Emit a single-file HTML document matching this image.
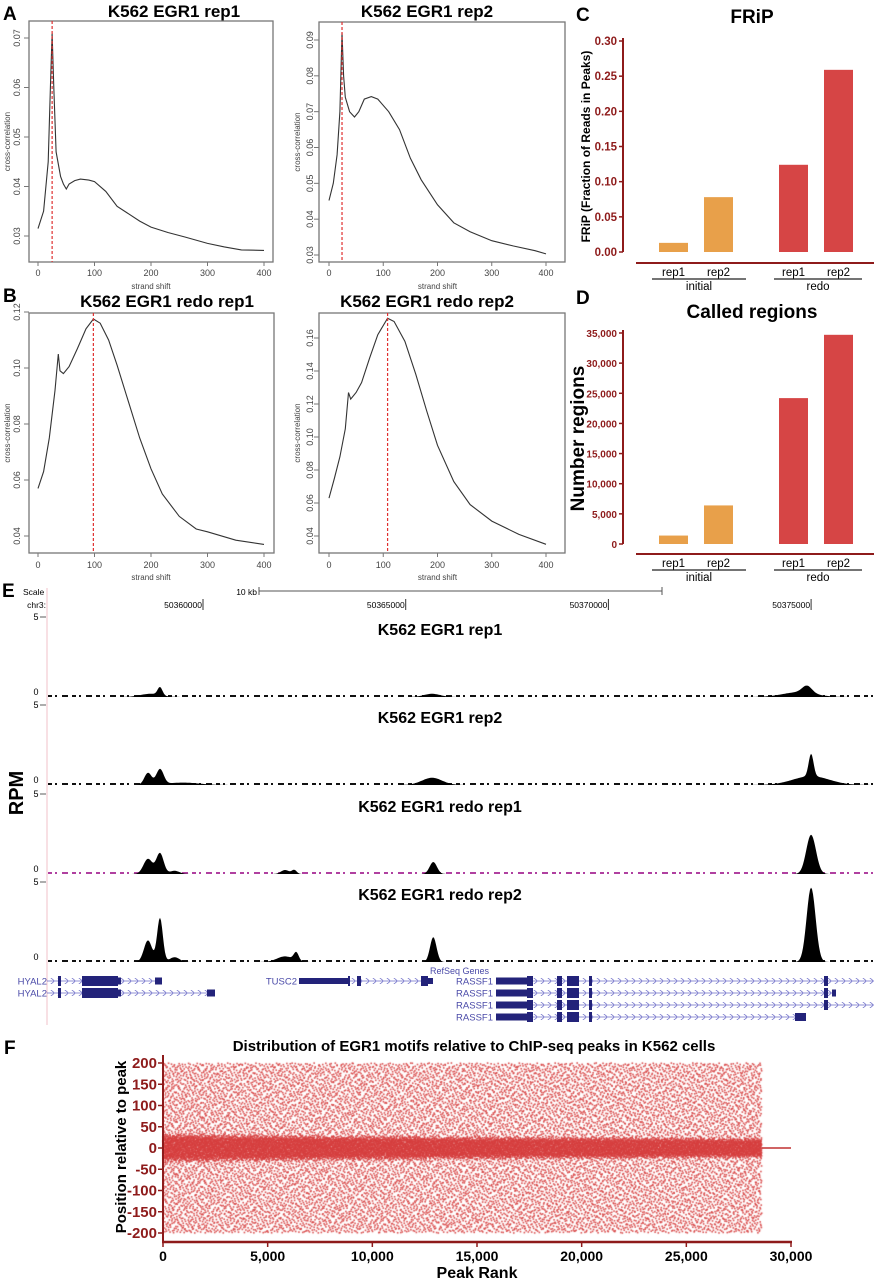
<!DOCTYPE html>
<html><head><meta charset="utf-8"><style>
html,body{margin:0;padding:0;background:#fff;}
#wrap{position:relative;width:874px;height:1280px;overflow:hidden;}
svg{position:absolute;left:0;top:0;}
#scatter{position:absolute;left:0;top:0;}
text{font-family:"Liberation Sans",sans-serif;}
</style></head><body>
<div id="wrap">
<canvas id="scatter" width="874" height="1280"></canvas>
<svg id="fig" width="874" height="1280" xmlns="http://www.w3.org/2000/svg">
<defs>
<pattern id="chev" width="7" height="6" patternUnits="userSpaceOnUse" y="-3">
<path d="M5,0.5 L2,3 L5,5.5" fill="none" stroke="#6e6ec8" stroke-width="0.8"/>
</pattern>
</defs>
<g font-weight="bold" font-size="19">
<text x="3" y="20">A</text>
<text x="3" y="302">B</text>
<text x="576" y="21">C</text>
<text x="576" y="304">D</text>
<text x="2" y="597">E</text>
<text x="4" y="1054">F</text>
</g>
<g id="ccplots"></g>
<g id="bars"></g>
<g id="browser"></g>
<g id="fplot"></g>
</svg>
</div>
<script>
// ---------- Panel A/B data ----------
const ccA1Shift = [0,10,18,22,25,28,32,40,45,50,55,65,75,90,100,120,140,160,180,200,230,260,300,330,360,400];
const ccA1Value = [0.0315,0.035,0.045,0.060,0.071,0.060,0.047,0.042,0.0405,0.0395,0.0405,0.0412,0.0415,0.0413,0.041,0.039,0.036,0.0345,0.033,0.0318,0.0307,0.0298,0.0285,0.0278,0.0272,0.0271];
const ccA2Shift = [0,8,15,20,24,27,30,38,47,55,65,78,90,110,130,150,170,200,230,260,300,340,380,400];
const ccA2Value = [0.0452,0.050,0.058,0.070,0.092,0.080,0.074,0.070,0.0685,0.070,0.0735,0.0742,0.0735,0.070,0.065,0.057,0.051,0.044,0.039,0.0365,0.034,0.0325,0.0312,0.0303];
const ccB1Shift = [0,10,20,30,36,39,45,55,70,85,98,110,125,140,160,180,200,220,250,280,300,350,400];
const ccB1Value = [0.057,0.063,0.075,0.092,0.105,0.099,0.098,0.1005,0.107,0.114,0.1175,0.116,0.110,0.101,0.088,0.075,0.064,0.055,0.047,0.0425,0.0415,0.0385,0.037];
const ccB2Shift = [0,10,20,30,36,40,50,60,75,90,108,120,140,160,180,200,230,260,300,350,400];
const ccB2Value = [0.063,0.075,0.088,0.105,0.127,0.123,0.127,0.133,0.148,0.162,0.172,0.170,0.158,0.138,0.116,0.095,0.073,0.059,0.049,0.041,0.035];
const ccPeakShift = [25,24,98,108];
const ccTitles = ["K562 EGR1 rep1","K562 EGR1 rep2","K562 EGR1 redo rep1","K562 EGR1 redo rep2"];
const ccXTicks = [0,100,200,300,400];
const ccA1YTicks = [0.03,0.04,0.05,0.06,0.07];
const ccA2YTicks = [0.03,0.04,0.05,0.06,0.07,0.08,0.09];
const ccB1YTicks = [0.04,0.06,0.08,0.10,0.12];
const ccB2YTicks = [0.04,0.06,0.08,0.10,0.12,0.14,0.16];

// ---------- Panel C/D data ----------
const barGroups = ["initial","initial","redo","redo"];
const barReps = ["rep1","rep2","rep1","rep2"];
const fripValues = [0.013,0.078,0.124,0.259];
const fripTicks = [0,0.05,0.10,0.15,0.20,0.25,0.30];
const regionValues = [1400,6400,24200,34700];
const regionTicks = [0,5000,10000,15000,20000,25000,30000,35000];

// ---------- Panel E data (genomic bp, RPM, width bp) ----------
const trackNames = ["K562 EGR1 rep1","K562 EGR1 rep2","K562 EGR1 redo rep1","K562 EGR1 redo rep2"];
const coordTicks = [50360000,50365000,50370000,50375000];
const rep1PeakPos = [50358939,50358700,50365650,50374900,50374700];
const rep1PeakRPM = [0.5,0.2,0.2,0.45,0.3];
const rep1PeakWidth = [60,250,200,120,400];
const rep2PeakPos = [50358643,50358939,50365650,50375000,50375000,50359500];
const rep2PeakRPM = [0.75,0.95,0.45,1.4,0.55,0.15];
const rep2PeakWidth = [90,90,250,60,450,400];
const redo1PeakPos = [50358643,50358939,50359300,50362023,50362250,50365680,50375000];
const redo1PeakRPM = [0.95,1.3,0.2,0.25,0.25,0.75,2.45];
const redo1PeakWidth = [110,90,120,100,60,90,120];
const redo2PeakPos = [50358643,50358939,50359300,50362023,50362300,50365680,50375000];
const redo2PeakRPM = [1.35,2.75,0.3,0.35,0.5,1.55,4.65];
const redo2PeakWidth = [100,70,120,200,60,80,110];

// ---------- Panel F data ----------
const fXTicks = [0,5000,10000,15000,20000,25000,30000];
const fYTicks = [200,150,100,50,0,-50,-100,-150,-200];
const fBinStart = [0,2500,5000,7500,10000,12500,15000,17500,20000,22500,25000,27500];
const fBinEnd = [2500,5000,7500,10000,12500,15000,17500,20000,22500,25000,27500,28600];
const fBandHalf = [35,33,32,30,30,28,28,27,27,26,25,25];
const fOuterCount = [1400,1350,1350,1350,1350,1350,1350,1350,1350,1350,1350,600];
const fBandCount = [1100,1050,1000,950,950,900,900,850,850,800,800,350];
const fMaxRank = 28600;

const NS="http://www.w3.org/2000/svg";
function mk(tag,attrs,parent,txt){const e=document.createElementNS(NS,tag);for(const k in attrs)e.setAttribute(k,attrs[k]);if(txt!==undefined)e.textContent=txt;parent.appendChild(e);return e;}

// ---------- Cross-correlation plots ----------
const ccG=document.getElementById('ccplots');
const ccConf=[
 {shift:ccA1Shift,val:ccA1Value,yt:ccA1YTicks,box:[29,21,273,262],x0:38,x1:264,yv0:0.03,yp0:236,yv1:0.07,yp1:38,tx:174,ty:17,lx:17,ylx:7,xl:276,ssy:289},
 {shift:ccA2Shift,val:ccA2Value,yt:ccA2YTicks,box:[319,22,565,262],x0:329,x1:546,yv0:0.03,yp0:255,yv1:0.09,yp1:40,tx:427,ty:17,lx:310,ylx:297,xl:276,ssy:289},
 {shift:ccB1Shift,val:ccB1Value,yt:ccB1YTicks,box:[29,313,274,553],x0:38,x1:264,yv0:0.04,yp0:536,yv1:0.12,yp1:312,tx:167,ty:307,lx:17,ylx:7,xl:568,ssy:580},
 {shift:ccB2Shift,val:ccB2Value,yt:ccB2YTicks,box:[319,313,565,553],x0:329,x1:546,yv0:0.04,yp0:536,yv1:0.16,yp1:338,tx:427,ty:307,lx:310,ylx:297,xl:568,ssy:580}
];
ccConf.forEach((c,i)=>{
 const g=mk('g',{},ccG);
 
 
 const sx=v=>c.x0+(v/400)*(c.x1-c.x0);
 const sy=v=>c.yp0+(v-c.yv0)/(c.yv1-c.yv0)*(c.yp1-c.yp0);
 const t=mk('text',{x:c.tx,y:c.ty,'text-anchor':'middle','font-size':17,'font-weight':'bold'},g,ccTitles[i]);
 
 
 const b=mk('rect',{x:c.box[0],y:c.box[1],width:c.box[2]-c.box[0],height:c.box[3]-c.box[1],fill:'none',stroke:'#777','stroke-width':1.3},g);
 
 
 c.yt.forEach(v=>{
  const y=sy(v);
  mk('line',{x1:c.box[0]-5,x2:c.box[0],y1:y,y2:y,stroke:'#777','stroke-width':1},g);
  const l=mk('text',{x:c.lx,y:y,'font-size':9,fill:'#444','text-anchor':'middle',transform:`rotate(-90 ${c.lx} ${y})`,dy:3},g,v.toFixed(2));
  
  
 });
 ccXTicks.forEach(v=>{
  const x=sx(v);
  mk('line',{x1:x,x2:x,y1:c.box[3],y2:c.box[3]+4,stroke:'#777','stroke-width':1},g);
  const l=mk('text',{x:x,y:c.xl,'font-size':9,fill:'#444','text-anchor':'middle'},g,String(v));
  
  
 });
 const xs=mk('text',{x:(c.x0+c.x1)/2,y:c.ssy,'font-size':8,fill:'#444','text-anchor':'middle'},g,'strand shift');
 
 
 const ym=(c.box[1]+c.box[3])/2;
 const yl=mk('text',{x:c.ylx,y:ym,'font-size':8,fill:'#444','text-anchor':'middle',transform:`rotate(-90 ${c.ylx} ${ym})`,dy:3},g,'cross-correlation');
 
 
 let d='';c.shift.forEach((s,k)=>{d+=(k?'L':'M')+sx(s).toFixed(1)+','+sy(c.val[k]).toFixed(1);});
 const p=mk('path',{d:d,fill:'none',stroke:'#333','stroke-width':1.1},g);
 
 
 const px=sx(ccPeakShift[i]);
 const r=mk('line',{x1:px,x2:px,y1:c.box[1],y2:c.box[3],stroke:'#e03030','stroke-width':1.2,'stroke-dasharray':'3,2'},g);
 
 
});

// ---------- Bar charts ----------
const bG=document.getElementById('bars');
const barX=[659,704,779,824], barW=29, dark='#8e1b1b';
const barCol=['#e8a04a','#e8a04a','#d64545','#d64545'];
function barChart(name,title,titleY,vals,ticks,y0,y1,axisY,fmt,yTitle,yTitleX,yTitleSize){
 const g=mk('g',{},bG);
 
 
 const vmax=ticks[ticks.length-1];
 const sy=v=>y0+(v/vmax)*(y1-y0);
 const t=mk('text',{x:752,y:titleY,'text-anchor':'middle','font-size':19,'font-weight':'bold'},g,title);
 
 
 mk('line',{x1:623,x2:623,y1:y1-3,y2:y0,stroke:dark,'stroke-width':2},g);
 ticks.forEach(v=>{
  const y=sy(v);
  mk('line',{x1:619,x2:623,y1:y,y2:y,stroke:dark,'stroke-width':1.5},g);
  const l=mk('text',{x:617,y:y+4,'text-anchor':'end','font-size':fmt==='d'?10:11.5,'font-weight':'bold',fill:dark},g,fmt==='d'?v.toLocaleString('en-US'):v.toFixed(2));
  
  
 });
 vals.forEach((v,k)=>{
  const r=mk('rect',{x:barX[k],y:sy(v),width:barW,height:y0-sy(v),fill:barCol[k]},g);
  
  
  const l=mk('text',{x:barX[k]+barW/2,y:axisY+13,'text-anchor':'middle','font-size':11.5},g,barReps[k]);
  
  
 });
 mk('line',{x1:636,x2:874,y1:axisY,y2:axisY,stroke:dark,'stroke-width':2},g);
 [[652,746,'initial'],[774,862,'redo']].forEach(a=>{
  mk('line',{x1:a[0],x2:a[1],y1:axisY+16,y2:axisY+16,stroke:'#222','stroke-width':1.3},g);
  const l=mk('text',{x:(a[0]+a[1])/2,y:axisY+27,'text-anchor':'middle','font-size':11.5},g,a[2]);
  
  
 });
 const ym=(y0+y1)/2;
 const yl=mk('text',{x:yTitleX,y:ym,'text-anchor':'middle','font-size':yTitleSize,'font-weight':'bold',transform:`rotate(-90 ${yTitleX} ${ym})`},g,yTitle);
 
 
}
barChart('frip-chart','FRiP',23,fripValues,fripTicks,252,41,263,'f','FRiP (Fraction of Reads in Peaks)',590,12);
barChart('called-regions-chart','Called regions',318,regionValues,regionTicks,544,333,554,'d','Number regions',584,19);

// ---------- Genome browser ----------
const eG=document.getElementById('browser');
const gx=bp=>203+(bp-50360000)/5000*202.7;
mk('line',{x1:47,x2:47,y1:588,y2:1025,stroke:'#f2c0c8','stroke-width':1},eG);
mk('text',{x:23,y:595,'font-size':8.5},eG,'Scale');
mk('text',{x:257,y:595,'font-size':8.5,'text-anchor':'end'},eG,'10 kb');
mk('line',{x1:259,x2:662,y1:591,y2:591,stroke:'#555','stroke-width':1},eG);
mk('line',{x1:259,x2:259,y1:587,y2:595,stroke:'#555'},eG);
mk('line',{x1:662,x2:662,y1:587,y2:595,stroke:'#555'},eG);
mk('text',{x:46,y:608,'font-size':8.5,'text-anchor':'end'},eG,'chr3:');
coordTicks.forEach(c=>{
 const x=gx(c);
 mk('line',{x1:x,x2:x,y1:599,y2:610,stroke:'#333','stroke-width':1},eG);
 const l=mk('text',{x:x-1,y:608,'font-size':8.5,'text-anchor':'end'},eG,String(c));
 
 
});
const rpm=mk('text',{x:23,y:793,'font-size':20,'font-weight':'bold','text-anchor':'middle',transform:'rotate(-90 23 793)'},eG,'RPM');


const trackBase=[697,785,874,962];
const trackData=[[rep1PeakPos,rep1PeakRPM,rep1PeakWidth],[rep2PeakPos,rep2PeakRPM,rep2PeakWidth],[redo1PeakPos,redo1PeakRPM,redo1PeakWidth],[redo2PeakPos,redo2PeakRPM,redo2PeakWidth]];
trackData.forEach((td,i)=>{
 const g=mk('g',{},eG);
 
 
 const base=trackBase[i], pxPerRPM=16;
 mk('text',{x:36,y:base-77,'font-size':9,'text-anchor':'middle'},g,'5');
 mk('line',{x1:40,x2:46,y1:base-80,y2:base-80,stroke:'#333','stroke-width':0.8},g);
 mk('text',{x:36,y:base-2,'font-size':9,'text-anchor':'middle'},g,'0');
 const t=mk('text',{x:440,y:base-62,'text-anchor':'middle','font-size':16,'font-weight':'bold'},g,trackNames[i]);
 
 
 mk('line',{x1:48,x2:874,y1:base-1,y2:base-1,stroke:i===2?'#b040a0':'#111','stroke-width':2,'stroke-dasharray':'4,3,2,5,6,4'},g);
 let d='M48,'+base;
 for(let x=48;x<=874;x+=1){
  const bp=50360000+(x-203)/202.7*5000;
  let v=0;
  td[0].forEach((p,k)=>{const z=(bp-p)/td[2][k];v+=td[1][k]*Math.exp(-0.5*z*z);});
  d+='L'+x+','+(base-v*pxPerRPM).toFixed(1);
 }
 d+='L874,'+base+'Z';
 const p=mk('path',{d:d,fill:'#000'},g);
 
 
});
// genes
const geneCol='#23237a', labCol='#4a4aa8';
const rg=mk('text',{x:430,y:974,'font-size':9,fill:labCol},eG,'RefSeq Genes');


function gene(label,labelX,y,lineX0,lineX1,blocks){
 const g=mk('g',{},eG);
 
 
 mk('text',{x:labelX,y:y+3.5,'font-size':9.5,fill:labCol,'text-anchor':'end'},g,label);
 mk('rect',{x:lineX0,y:y-3,width:lineX1-lineX0,height:6,fill:'url(#chev)'},g);
 mk('line',{x1:lineX0,x2:lineX1,y1:y,y2:y,stroke:'#6e6ec8','stroke-width':0.8},g);
 blocks.forEach(b=>mk('rect',{x:b[0],y:y-b[2]/2,width:b[1]-b[0],height:b[2],fill:geneCol},g));
}
gene('HYAL2',47,981,47,162,[[58,61,10],[82,118,10],[118,121,7],[155,162,7]]);
gene('HYAL2',47,993,47,215,[[58,61,10],[82,118,10],[118,121,7],[207,215,7]]);
gene('TUSC2',297,981,299,433,[[299,348,6],[348,350,10],[357,361,10],[421,428,10],[428,433,6]]);
const rowsR=[981,993,1005,1017];
rowsR.forEach((y,k)=>{
 const end=[874,835,874,806][k];
 const bl=[[496,527,7],[527,533,10],[557,562,10],[567,579,10],[589,592,10]];
 if(k<3) bl.push([824,828,10]);
 if(k===1) bl.push([832,836,7]);
 if(k===3) bl.push([795,806,8]);
 gene('RASSF1',493,y,496,end,bl);
});

// ---------- Panel F ----------
const fG=document.getElementById('fplot');
const fx=r=>163+r/30000*628;
const fy=v=>1148-v/200*85;
const ft=mk('text',{x:474,y:1051,'text-anchor':'middle','font-size':15,'font-weight':'bold'},fG,'Distribution of EGR1 motifs relative to ChIP-seq peaks in K562 cells');


mk('line',{x1:163,x2:163,y1:1055,y2:1243,stroke:dark,'stroke-width':2},fG);
mk('line',{x1:162,x2:792,y1:1242,y2:1242,stroke:dark,'stroke-width':2.5},fG);
fYTicks.forEach(v=>{
 const y=fy(v);
 mk('line',{x1:158,x2:163,y1:y,y2:y,stroke:dark,'stroke-width':1.5},fG);
 const l=mk('text',{x:157,y:y+5,'text-anchor':'end','font-size':15,'font-weight':'bold',fill:dark},fG,String(v));
 
 
});
fXTicks.forEach(v=>{
 const x=fx(v);
 mk('line',{x1:x,x2:x,y1:1242,y2:1247,stroke:dark,'stroke-width':1.5},fG);
 const l=mk('text',{x:x,y:1261,'text-anchor':'middle','font-size':14,'font-weight':'bold'},fG,v.toLocaleString('en-US'));
 
 
});
const xt=mk('text',{x:477,y:1278,'text-anchor':'middle','font-size':16,'font-weight':'bold'},fG,'Peak Rank');


const yt=mk('text',{x:126,y:1147,'text-anchor':'middle','font-size':15,'font-weight':'bold',transform:'rotate(-90 126 1147)'},fG,'Position relative to peak');


mk('line',{x1:fx(fMaxRank),x2:fx(30000),y1:fy(0),y2:fy(0),stroke:'#c03030','stroke-width':1.5},fG);
// scatter via canvas (low-discrepancy placement within binned densities)
const ctx=document.getElementById('scatter').getContext('2d');
function halton(i,b){let f=1,r=0;while(i>0){f/=b;r+=f*(i%b);i=Math.floor(i/b);}return r;}
let idx=1;
fBinStart.forEach((s,k)=>{
 const e=fBinEnd[k];
 ctx.fillStyle='rgba(214,62,62,0.22)';
 ctx.fillRect(fx(s),fy(fBandHalf[k]*0.7),fx(e)-fx(s),fy(-fBandHalf[k]*0.7)-fy(fBandHalf[k]*0.7));
 ctx.fillStyle='rgba(214,62,62,0.9)';
 for(let n=0;n<fOuterCount[k];n++,idx++){
  const r=s+halton(idx,2)*(e-s), v=-200+halton(idx,3)*400;
  ctx.fillRect(fx(r)-0.8,fy(v)-0.8,1.6,1.6);
 }
 for(let n=0;n<fBandCount[k];n++,idx++){
  const r=s+halton(idx,2)*(e-s), v=(halton(idx,5)*2-1)*fBandHalf[k]*(0.6+0.4*halton(idx,7));
  ctx.fillRect(fx(r)-0.8,fy(v)-0.8,1.6,1.6);
 }
});
</script>
</body></html>
